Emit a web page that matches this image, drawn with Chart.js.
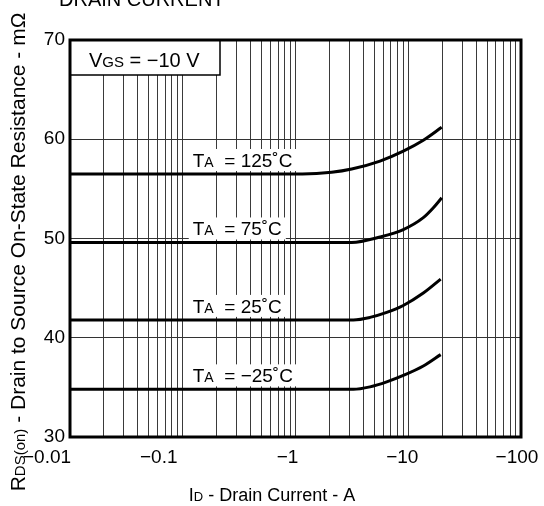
<!DOCTYPE html>
<html>
<head>
<meta charset="utf-8">
<script src="https://cdn.jsdelivr.net/npm/chart.js@4/dist/chart.umd.min.js"></script>
<style>
  html, body { margin: 0; padding: 0; background: #fff; }
  canvas { display: block; }
</style>
</head>
<body>
<canvas id="rdsChart" width="544" height="506"></canvas>
<script>
// Valores (corrente em módulo, A ; resistência em mΩ)
const current125 = [0.01, 1.15, 2.09, 3.15, 5.62, 9.04, 13.6, 19.8];
const rds125 = [56.5, 56.5, 56.67, 57.0, 57.8, 58.8, 59.9, 61.2];

const current75 = [0.01, 3.15, 5.62, 9.04, 13.6, 16.7, 19.8];
const rds75 = [49.6, 49.6, 50.15, 50.9, 52.1, 53.1, 54.1];

const current25 = [0.01, 3.26, 4.58, 6.44, 9.04, 13.6, 19.4];
const rds25 = [41.8, 41.8, 42.05, 42.55, 43.25, 44.5, 45.9];

const currentM25 = [0.01, 3.26, 4.58, 6.44, 9.04, 13.6, 19.4];
const rdsM25 = [34.8, 34.8, 35.05, 35.55, 36.2, 37.15, 38.3];

const tempLabels = ['125', '75', '25', '\u221225'];
const xDecades = [0.01, 0.1, 1, 10, 100];
const xTickLabels = ['\u22120.01', '\u22120.1', '\u22121', '\u221210', '\u2212100'];
const yTicks = [30, 40, 50, 60, 70];

const FONT = "'Liberation Sans', Arial, Helvetica, sans-serif";
// deslocamento horizontal de cada rótulo do eixo x (px), como no original
const xLabelShift = [-23, -24, -8, -6, -4];

function pontos(xs, ys) {
    return xs.map((x, i) => ({ x: x, y: ys[i] }));
}

// Desenha texto com partes de tamanhos diferentes na mesma linha de base
function textoMisto(ctx, partes, x, y) {
    let cx = x;
    partes.forEach(p => {
        ctx.font = p[1] + 'px ' + FONT;
        ctx.fillText(p[0], cx, y);
        cx += ctx.measureText(p[0]).width;
    });
    return cx - x;
}

function larguraMista(ctx, partes) {
    let w = 0;
    partes.forEach(p => {
        ctx.font = p[1] + 'px ' + FONT;
        w += ctx.measureText(p[0]).width;
    });
    return w;
}

const series = [
    { xs: current125, ys: rds125 },
    { xs: current75, ys: rds75 },
    { xs: current25, ys: rds25 },
    { xs: currentM25, ys: rdsM25 }
];

const anotacoes = {
    id: 'anotacoes',
    beforeDatasetsDraw(chart) {
        const ctx = chart.ctx;
        const area = chart.chartArea;
        const xs = chart.scales.x;
        const ys = chart.scales.y;
        ctx.save();
        ctx.textBaseline = 'alphabetic';

        // caixa VGS
        ctx.fillStyle = '#fff';
        ctx.fillRect(area.left, area.top, 150, 35);
        ctx.strokeStyle = '#000';
        ctx.lineWidth = 1.5;
        ctx.beginPath();
        ctx.moveTo(area.left + 150, area.top);
        ctx.lineTo(area.left + 150, area.top + 35);
        ctx.lineTo(area.left, area.top + 35);
        ctx.stroke();
        ctx.fillStyle = '#000';
        textoMisto(ctx, [['V', 20], ['GS', 15], [' = \u221210 V', 20]], area.left + 19, area.top + 27);

        // rótulos de temperatura
        const x0 = xs.getPixelForValue(0.1) + 10;
        series.forEach((s, i) => {
            const partes = [['T', 19], ['A', 14], ['  = ' + tempLabels[i] + '\u02DAC', 19]];
            const w = larguraMista(ctx, partes);
            const base = ys.getPixelForValue(s.ys[0]) - 7;
            ctx.fillStyle = '#fff';
            ctx.fillRect(x0 - 4, base - 18, w + 8, 22);
            ctx.fillStyle = '#000';
            textoMisto(ctx, partes, x0, base);
        });
        ctx.restore();
    },
    afterDraw(chart) {
        const ctx = chart.ctx;
        const area = chart.chartArea;
        const xs = chart.scales.x;
        ctx.save();
        ctx.strokeStyle = '#000';
        ctx.lineWidth = 3;
        ctx.strokeRect(area.left, area.top, area.right - area.left, area.bottom - area.top);

        ctx.fillStyle = '#000';

        // rótulos do eixo x
        ctx.font = '19px ' + FONT;
        ctx.textAlign = 'center';
        ctx.textBaseline = 'alphabetic';
        xDecades.forEach((d, i) => {
            ctx.fillText(xTickLabels[i], xs.getPixelForValue(d) + xLabelShift[i], area.bottom + 26);
        });
        ctx.textAlign = 'left';

        // título (cortado no topo)
        ctx.font = '20px ' + FONT;
        ctx.fillText('DRAIN CURRENT', 59, 6);

        // título do eixo x
        const partesX = [['I', 18], ['D', 13], [' - Drain Current - A', 18]];
        const wx = larguraMista(ctx, partesX);
        textoMisto(ctx, partesX, 272 - wx / 2, 501);

        // título do eixo y (rotacionado)
        const partesY = [['R', 21], ['DS(on)', 15], [' - Drain to Source On-State Resistance - m\u03A9', 21]];
        const wy = larguraMista(ctx, partesY);
        ctx.translate(25, 252);
        ctx.rotate(-Math.PI / 2);
        textoMisto(ctx, partesY, -wy / 2, 0);
        ctx.restore();
    }
};

new Chart(document.getElementById('rdsChart').getContext('2d'), {
    type: 'line',
    data: {
        datasets: series.map(s => ({
            data: pontos(s.xs, s.ys),
            borderColor: '#000',
            borderWidth: 3,
            pointRadius: 0,
            fill: false,
            cubicInterpolationMode: 'monotone'
        }))
    },
    options: {
        responsive: false,
        animation: false,
        layout: { padding: { left: 0, top: 40, right: 23, bottom: 0 } },
        plugins: {
            legend: { display: false },
            tooltip: { enabled: false }
        },
        scales: {
            x: {
                type: 'logarithmic',
                min: 0.01,
                max: 100,
                afterBuildTicks(scale) {
                    const ticks = [];
                    xDecades.forEach((d, i) => {
                        ticks.push({ value: d });
                        if (i < xDecades.length - 1) {
                            for (let k = 2; k <= 9; k++) ticks.push({ value: d * k });
                        }
                    });
                    scale.ticks = ticks;
                },
                afterFit(scale) {
                    scale.height = 69;
                    scale.paddingLeft = 0;
                    scale.paddingRight = 0;
                },
                ticks: { display: false, autoSkip: false },
                grid: { color: '#3a3a3a', lineWidth: 1, drawTicks: false },
                border: { display: false }
            },
            y: {
                min: 30,
                max: 70,
                afterBuildTicks(scale) {
                    scale.ticks = yTicks.map(v => ({ value: v }));
                },
                afterFit(scale) {
                    scale.width = 70;
                },
                ticks: {
                    padding: 5,
                    color: '#000',
                    font: { family: FONT, size: 19 }
                },
                grid: { color: '#333', lineWidth: 1, drawTicks: false },
                border: { display: false }
            }
        }
    },
    plugins: [anotacoes]
});
</script>
</body>
</html>
